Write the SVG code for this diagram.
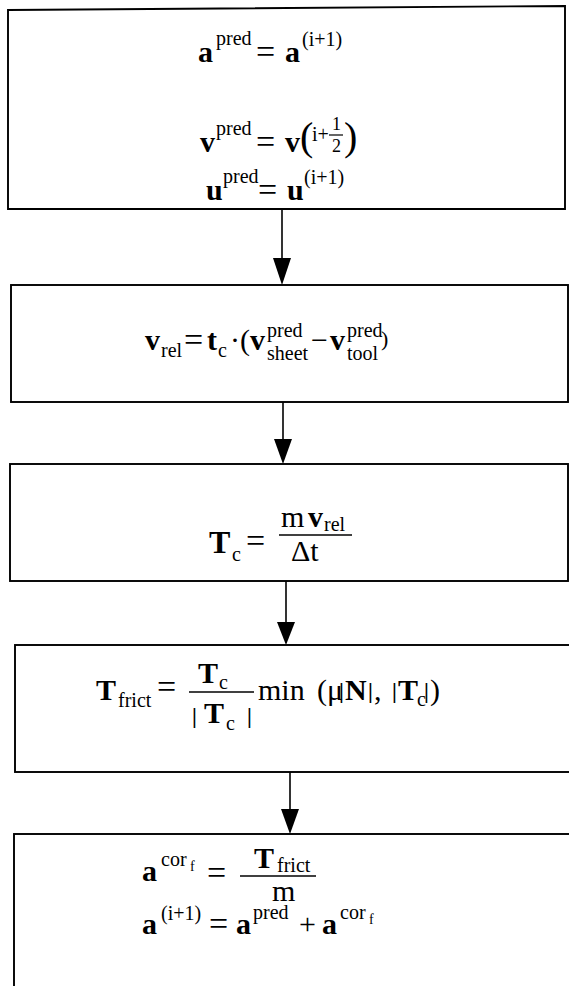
<svg xmlns="http://www.w3.org/2000/svg" width="569" height="986" viewBox="0 0 569 986">
<style>
.box{fill:#fff;stroke:#000;stroke-width:1.9}
.m{font-family:"Liberation Serif","Times New Roman",serif;font-size:30px;fill:#000}
.eq{font-family:"Liberation Serif","Times New Roman",serif;font-size:34px;fill:#000}
.b{font-family:"Liberation Serif","Times New Roman",serif;font-size:30px;font-weight:bold;fill:#000}
.s{font-family:"Liberation Serif","Times New Roman",serif;font-size:20px;fill:#000}
.ss{font-family:"Liberation Serif","Times New Roman",serif;font-size:14px;fill:#000}
.bar{font-family:"Liberation Serif","Times New Roman",serif;font-size:22px;font-weight:bold;fill:#000}
.line{stroke:#000;stroke-width:1.7;fill:none}
.conn{stroke:#000;stroke-width:1.6;fill:none}
.head{fill:#000}
</style>
<rect width="569" height="986" fill="#fff"/>

<g id="connectors">
<line class="conn" x1="282" y1="209" x2="282" y2="258"/>
<path class="head" d="M273,258 L291,258 L282,285 Z"/>
<line class="conn" x1="283" y1="402" x2="283" y2="439"/>
<path class="head" d="M274,439 L292,439 L283,464 Z"/>
<line class="conn" x1="286" y1="581" x2="286" y2="622"/>
<path class="head" d="M277,622 L295,622 L286,645 Z"/>
<line class="conn" x1="290" y1="772" x2="290" y2="809"/>
<path class="head" d="M281,809 L299,809 L290,834 Z"/>
</g>

<g id="node1">
<path class="box" d="M8,10 L565,6 L565,209 L8,209 Z"/>
<text class="b" x="198" y="62">a</text>
<text class="s" x="216" y="45">pred</text>
<text class="eq" x="256" y="63">=</text>
<text class="b" x="285" y="62">a</text>
<text class="s" x="302" y="46">(i+1)</text>

<text class="b" x="200" y="152">v</text>
<text class="s" x="216" y="135">pred</text>
<text class="eq" x="256" y="153">=</text>
<text class="b" x="285" y="152">v</text>
<text class="m" x="300" y="150" style="font-size:40px">(</text>
<text class="s" x="312" y="141">i+</text>
<text class="s" x="332" y="130" style="font-size:18px">1</text>
<line class="line" x1="329" y1="135" x2="343" y2="135" style="stroke-width:1.2"/>
<text class="s" x="332" y="152" style="font-size:18px">2</text>
<text class="m" x="344" y="150" style="font-size:40px">)</text>

<text class="b" x="206" y="200">u</text>
<text class="s" x="223" y="183">pred</text>
<text class="eq" x="258" y="201">=</text>
<text class="b" x="287" y="200">u</text>
<text class="s" x="304" y="184">(i+1)</text>
</g>

<g id="node2">
<rect class="box" x="11" y="285" width="557" height="117"/>
<text class="b" x="145" y="350">v</text>
<text class="s" x="161" y="357">rel</text>
<text class="eq" x="184" y="351">=</text>
<text class="b" x="207" y="350">t</text>
<text class="s" x="218" y="357">c</text>
<text class="m" x="230" y="350">·</text>
<text class="m" x="240" y="350">(</text>
<text class="b" x="250" y="350">v</text>
<text class="s" x="267" y="337">pred</text>
<text class="s" x="267" y="360">sheet</text>
<text class="m" x="311" y="350">−</text>
<text class="b" x="330" y="350">v</text>
<text class="s" x="347" y="337">pred</text>
<text class="s" x="347" y="360">tool</text>
<text class="s" x="381" y="346" style="font-size:22px">)</text>
</g>

<g id="node3">
<rect class="box" x="10" y="464" width="558" height="117"/>
<text class="b" x="209" y="553" style="font-size:32px">T</text>
<text class="s" x="232" y="561">c</text>
<text class="eq" x="246" y="552">=</text>
<line class="line" x1="279" y1="535" x2="352" y2="535"/>
<text class="m" x="281" y="527">m</text>
<text class="b" x="308" y="527">v</text>
<text class="s" x="324" y="531">rel</text>
<text class="m" x="291" y="561">Δt</text>
</g>

<g id="node4">
<rect class="box" x="15" y="645" width="570" height="127"/>
<text class="b" x="96" y="700">T</text>
<text class="s" x="118" y="707">frict</text>
<text class="eq" x="157" y="698">=</text>
<text class="b" x="198" y="683">T</text>
<text class="s" x="219" y="689">c</text>
<line class="line" x1="189" y1="692" x2="254" y2="692"/>
<text class="bar" x="192" y="723">|</text>
<text class="b" x="204" y="723">T</text>
<text class="s" x="226" y="730">c</text>
<text class="bar" x="247" y="723">|</text>
<text class="m" x="258" y="700">min</text>
<text class="m" x="317" y="700">(</text>
<text class="m" x="327" y="700">μ</text>
<text class="bar" x="339" y="698">|</text>
<text class="b" x="345" y="700">N</text>
<text class="bar" x="368" y="698">|</text>
<text class="m" x="374" y="700">,</text>
<text class="bar" x="392" y="698">|</text>
<text class="b" x="398" y="700">T</text>
<text class="s" x="417" y="706">c</text>
<text class="bar" x="424" y="698">|</text>
<text class="m" x="430" y="700">)</text>
</g>

<g id="node5">
<rect class="box" x="14" y="834" width="580" height="200"/>
<text class="b" x="142" y="881">a</text>
<text class="s" x="161" y="866">cor</text>
<text class="ss" x="190" y="871">f</text>
<text class="eq" x="207" y="884">=</text>
<line class="line" x1="240" y1="876" x2="316" y2="876"/>
<text class="b" x="254" y="868">T</text>
<text class="s" x="277" y="872">frict</text>
<text class="m" x="272" y="901">m</text>

<text class="b" x="142" y="934">a</text>
<text class="s" x="161" y="920">(i+1)</text>
<text class="eq" x="209" y="935">=</text>
<text class="b" x="236" y="934">a</text>
<text class="s" x="253" y="919">pred</text>
<text class="m" x="299" y="934">+</text>
<text class="b" x="322" y="934">a</text>
<text class="s" x="340" y="919">cor</text>
<text class="ss" x="369" y="924">f</text>
</g>
</svg>
